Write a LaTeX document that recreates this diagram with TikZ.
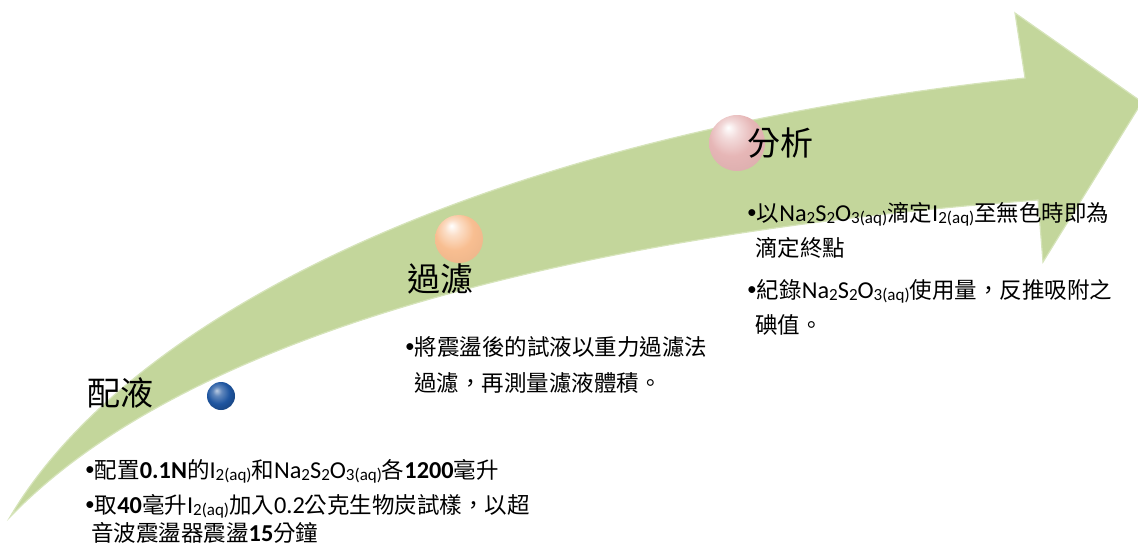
\documentclass[tikz,border=0pt]{standalone}
\usepackage{fontspec}
\usepackage{graphicx}
\setmainfont[Scale=1.08]{Carlito}
\newfontfamily\cjk{Noto Sans CJK TC}
\definecolor{arrowgreen}{RGB}{195,214,155}
\definecolor{arrowedge}{RGB}{214,228,186}
\definecolor{ballblue}{RGB}{30,85,160}
\definecolor{ballorange}{RGB}{248,190,145}
\definecolor{ballpink}{RGB}{230,182,182}
\pgfdeclareradialshading{blueball}{\pgfqpoint{-8bp}{10bp}}{color(0bp)=(ballblue!30!white); color(8bp)=(ballblue!70!white); color(20bp)=(ballblue); color(50bp)=(ballblue!45!black)}
\pgfdeclareradialshading{orangeball}{\pgfqpoint{-8bp}{14bp}}{color(0bp)=(white); color(8bp)=(ballorange!50!white); color(20bp)=(ballorange); color(45bp)=(ballorange!92!black); color(50bp)=(ballorange!80!black)}
\pgfdeclareradialshading{pinkball}{\pgfqpoint{-8bp}{14bp}}{color(0bp)=(white); color(8bp)=(ballpink!50!white); color(20bp)=(ballpink); color(45bp)=(ballpink!92!black); color(50bp)=(ballpink!80!black)}
\newcommand\zh[1]{{\cjk #1}}
\newcommand\lo[1]{\raisebox{-0.25ex}{\scalebox{0.7}{#1}}}
\newcommand\bul{\raisebox{0.25ex}{\scalebox{0.8}{•}}}
\begin{document}
\begin{tikzpicture}[x=1pt,y=-1pt,
  heading/.style={font=\cjk\fontsize{33}{36}\selectfont, inner sep=0pt},
  body/.style={font=\fontsize{22.5}{26}\selectfont, anchor=base west, inner sep=0pt},
  sphere/.style={circle, inner sep=0pt, draw=none}]
\useasboundingbox (0,0) rectangle (1138,549);
\clip (0,0) rectangle (1138,549);
% arrow
\coordinate (tail) at (10,517);
\coordinate (uc) at (1025,78);
\coordinate (ub) at (1015,13);
\coordinate (tip) at (1142,102);
\coordinate (lb) at (1043,262);
\coordinate (lc) at (1038,200);
\fill[arrowgreen, draw=arrowedge, line width=1.2pt, line join=miter]
  (tail) .. controls (120,330) and (450,140) .. (uc) -- (ub) -- (tip) -- (lb) -- (lc)
  .. controls (700,225) and (220,300) .. (tail) -- cycle;
% spheres
\node[sphere, minimum size=28pt, shading=blueball] (s1) at (221,396) {};
\node[sphere, minimum size=48pt, shading=orangeball] (s2) at (459,239) {};
\node[sphere, minimum size=56pt, shading=pinkball] (s3) at (737,143) {};
% headings
\node[heading] (h1) at (120,393) {配液};
\node[heading] (h2) at (440,279) {過濾};
\node[heading] (h3) at (780,143) {分析};
% body 1
\node[body] (a1) at (85,478) {\bul\zh{配置}\textbf{0.1N}\zh{的}I\lo{2(aq)}\zh{和}Na\lo{2}S\lo{2}O\lo{3(aq)}\zh{各}\textbf{1200}\zh{毫升}};
\node[body] (a2) at (85,513) {\bul\zh{取}\textbf{40}\zh{毫升}I\lo{2(aq)}\zh{加入}0.2\zh{公克生物炭試樣，以超}};
\node[body] (a3) at (91,541) {\zh{音波震盪器震盪}\textbf{15}\zh{分鐘}};
% body 2
\node[body] (b1) at (405,355) {\bul\zh{將震盪後的試液以重力過濾法}};
\node[body] (b2) at (414,391) {\zh{過濾，再測量濾液體積。}};
% body 3
\node[body] (c1) at (747,221) {\bul\zh{以}Na\lo{2}S\lo{2}O\lo{3(aq)}\zh{滴定}I\lo{2(aq)}\zh{至無色時即為}};
\node[body] (c2) at (755,256) {\zh{滴定終點}};
\node[body] (c3) at (747,298) {\bul\zh{紀錄}Na\lo{2}S\lo{2}O\lo{3(aq)}\zh{使用量，反推吸附之}};
\node[body] (c4) at (755,333) {\zh{碘值。}};
\end{tikzpicture}
\end{document}
